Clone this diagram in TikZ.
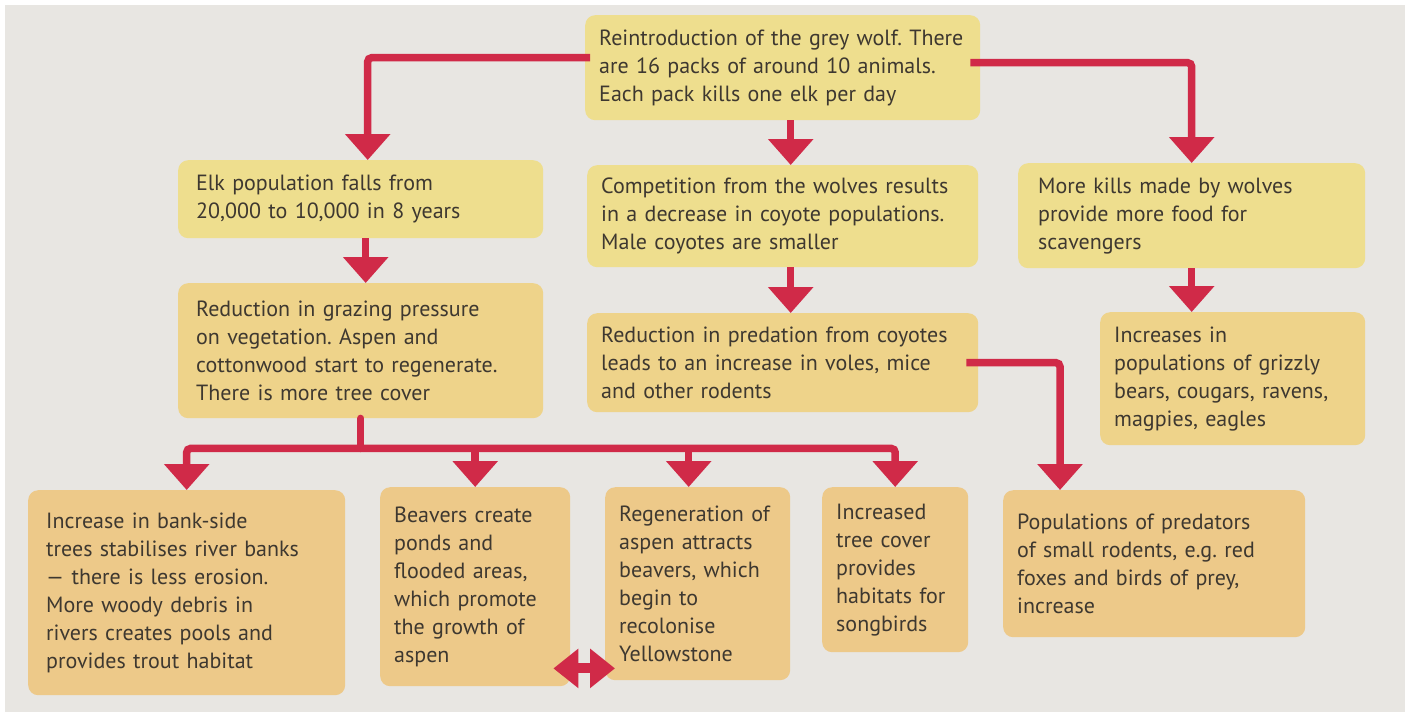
\documentclass[tikz,border=0pt]{standalone}
\usepackage{fontspec}
\setmainfont{PT Sans}
\usetikzlibrary{arrows.meta,calc}
\definecolor{bg}{RGB}{232,230,226}
\definecolor{boxY}{RGB}{238,222,142}
\definecolor{boxM}{RGB}{238,211,138}
\definecolor{boxT}{RGB}{237,201,137}
\definecolor{arrc}{RGB}{208,42,72}
\definecolor{txt}{RGB}{62,56,48}
\begin{document}
\frenchspacing
\begin{tikzpicture}[x=1pt,y=-1pt,
  box/.style={rectangle, rounded corners=10pt, inner xsep=14pt, inner ysep=6pt,
    align=left, anchor=north west, text=txt, font=\fontsize{22}{28}\selectfont},
  arr/.style={draw=arrc, line width=7.5pt, rounded corners=4pt,
    -{Triangle[width=44pt,length=26pt]}},
  lin/.style={draw=arrc, line width=7.5pt, line cap=round},
  dbl/.style={draw=arrc, line width=10pt,
    {Triangle[width=38pt,length=25pt]}-{Triangle[width=38pt,length=25pt]}}]
\useasboundingbox (0,0) rectangle (1410,715);
\fill[white] (0,0) rectangle (1410,715);
\fill[bg] (5,5) rectangle (1405,712);

\node[box, fill=boxY, text width=367pt, minimum height=105pt] (top) at (585,15)
  {Reintroduction of the grey wolf. There\\are 16 packs of around 10 animals.\\Each pack kills one elk per day};
\node[box, fill=boxY, text width=337pt, minimum height=78pt] (elk) at (178,160)
  {\hspace*{4pt}Elk population falls from\\\hspace*{4pt}20,000 to 10,000 in 8 years};
\node[box, fill=boxY, text width=363pt, minimum height=102pt] (comp) at (587,165)
  {Competition from the wolves results\\in a decrease in coyote populations.\\Male coyotes are smaller};
\node[box, fill=boxY, text width=319pt, minimum height=105pt] (kills) at (1018,163)
  {\hspace*{6pt}More kills made by wolves\\\hspace*{6pt}provide more food for\\\hspace*{6pt}scavengers};
\node[box, fill=boxM, text width=337pt, minimum height=135pt] (graz) at (178,283)
  {\hspace*{4pt}Reduction in grazing pressure\\\hspace*{4pt}on vegetation. Aspen and\\\hspace*{4pt}cottonwood start to regenerate.\\\hspace*{4pt}There is more tree cover};
\node[box, fill=boxM, text width=363pt, minimum height=99pt] (pred) at (587,313)
  {Reduction in predation from coyotes\\leads to an increase in voles, mice\\and other rodents};
\node[box, fill=boxM, text width=237pt, minimum height=133pt] (inc) at (1100,312)
  {Increases in\\populations of grizzly\\bears, cougars, ravens,\\magpies, eagles};
\node[box, fill=boxT, text width=289pt, minimum height=205pt] (bank) at (28,490)
  {\hspace*{4pt}Increase in bank-side\\\hspace*{4pt}trees stabilises river banks\\\hspace*{4pt}--- there is less erosion.\\\hspace*{4pt}More woody debris in\\\hspace*{4pt}rivers creates pools and\\\hspace*{4pt}provides trout habitat};
\node[box, fill=boxT, text width=162pt, minimum height=199pt] (beav) at (380,487)
  {Beavers create\\ponds and\\flooded areas,\\which promote\\the growth of\\aspen};
\node[box, fill=boxT, text width=157pt, minimum height=193pt] (regen) at (605,487)
  {Regeneration of\\aspen attracts\\beavers, which\\begin to\\recolonise\\Yellowstone};
\node[box, fill=boxT, text width=118pt, minimum height=165pt] (tree) at (822,487)
  {Increased\\tree cover\\provides\\habitats for\\songbirds};
\node[box, fill=boxT, text width=274pt, minimum height=147pt] (preds) at (1003,490)
  {Populations of predators\\of small rodents, e.g. red\\foxes and birds of prey,\\increase};

% connectors
\draw[arr] ([shift={(5pt,10pt)}]top.west) -| ([xshift=7pt]elk.north);
\draw[arr] ([shift={(-10pt,5pt)}]top.east) -| (kills.north);
\draw[arr] ([xshift=8pt]top.south) -- ([xshift=8pt]comp.north);
\draw[arr] ([xshift=5pt]elk.south) -- ([xshift=5pt]graz.north);
\draw[arr] ([xshift=8pt]comp.south) -- ([xshift=8pt]pred.north);
\draw[arr] (kills.south) -- (kills.south |- inc.north);
\draw[arr] ([xshift=-12pt]pred.east) -| ([xshift=57pt]preds.north west);

\coordinate (hub) at ([yshift=-30pt]graz.south);
\coordinate (rg) at ([xshift=-9pt]regen.north);
\draw[lin] (graz.south) -- (hub);
\draw[arr] (hub) -| (bank.north);
\draw[arr] (hub) -| (tree.north);
\draw[arr] (beav.north |- hub) -- (beav.north);
\draw[arr] (rg |- hub) -- (rg);

\draw[dbl] ([shift={(-17pt,18pt)}]beav.south east) -- ([shift={(10pt,12pt)}]regen.south west);
\end{tikzpicture}
\end{document}
